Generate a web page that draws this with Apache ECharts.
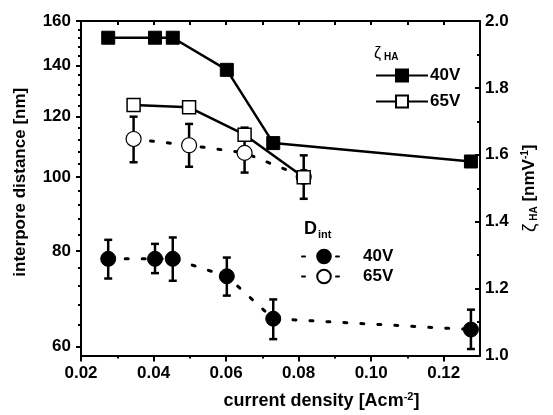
<!DOCTYPE html>
<html><head><meta charset="utf-8">
<script src="https://cdn.jsdelivr.net/npm/echarts@6/dist/echarts.min.js"></script>
<style>html,body{margin:0;padding:0;background:#fff}#c{width:553px;height:415px}</style>
</head><body><div id="c"></div>
<script>
// ---- data ----
const xTicks = [0.02, 0.04, 0.06, 0.08, 0.10, 0.12];
const xMinorTicks = [0.03, 0.05, 0.07, 0.09, 0.11];
const xTopTicks = [0.03, 0.04, 0.05, 0.06, 0.07, 0.08, 0.09, 0.10, 0.11, 0.12];
const leftTicks = [60, 80, 100, 120, 140, 160];
const leftMinorTicks = [64, 68, 72, 76, 84, 88, 92, 96, 104, 108, 112, 116, 124, 128, 132, 136, 144, 148, 152, 156];

const x40 = [0.0275, 0.0404, 0.0453, 0.0602, 0.073, 0.1275];
const x65 = [0.0345, 0.0498, 0.0651, 0.0814];
const zeta40 = [1.95, 1.95, 1.95, 1.854, 1.635, 1.58];
const zeta65 = [1.749, 1.742, 1.66, 1.533];
const dint40 = [78.1, 78.1, 78.1, 74.1, 65.2, 63.1];
const dint40Hi = [82.7, 81.7, 83.3, 78.4, 69.1, 67.0];
const dint40Lo = [73.6, 74.8, 73.1, 69.9, 61.3, 59.5];
const dint65 = [112.1, 110.0, 107.5, 100.0];
const dint65Hi = [119.9, 117.3, 116.0, 106.7];
const dint65Lo = [104.5, 103.1, 101.3, 93.6];

const FONT = "'Liberation Sans', Arial, sans-serif";
const pair = (xs, ys) => xs.map((x, i) => [x, ys[i]]);
const errs = (xs, lo, hi) => xs.map((x, i) => [x, lo[i], hi[i]]);

const axisLine = { show: true, onZero: false, lineStyle: { color: '#000', width: 2 } };
const tickStyle = { color: '#000', width: 2 };

function errorRender(params, api) {
  const x = api.value(0), lo = api.value(1), hi = api.value(2);
  const p1 = api.coord([x, hi]), p2 = api.coord([x, lo]);
  const w = 4, st = { stroke: '#000', lineWidth: 2.5 };
  return { type: 'group', children: [
    { type: 'line', shape: { x1: p1[0], y1: p1[1], x2: p2[0], y2: p2[1] }, style: st },
    { type: 'line', shape: { x1: p1[0] - w, y1: p1[1], x2: p1[0] + w, y2: p1[1] }, style: st },
    { type: 'line', shape: { x1: p2[0] - w, y1: p2[1], x2: p2[0] + w, y2: p2[1] }, style: st }
  ]};
}

const chart = echarts.init(document.getElementById('c'), null, { renderer: 'canvas' });
const xCommon = { type: 'value', min: 0.02, max: 0.13, splitLine: { show: false } };
const yLogCommon = { type: 'log', logBase: 10, min: 58.35, max: 160, splitLine: { show: false }, minorTick: { show: false } };

chart.setOption({
  animation: false,
  backgroundColor: '#fff',
  textStyle: { fontFamily: FONT },
  grid: { left: 81, right: 73, top: 21, bottom: 59, containLabel: false },
  xAxis: [
    Object.assign({}, xCommon, {
      position: 'bottom',
      name: 'current density [Acm{sup|-2}]',
      nameLocation: 'middle', nameGap: 36,
      nameTextStyle: { fontFamily: FONT, fontWeight: 'bold', fontSize: 18, color: '#000', padding: [0, 0, 0, 82],
        rich: { sup: { fontFamily: FONT, fontWeight: 'bold', fontSize: 11, color: '#000', verticalAlign: 'top', padding: [0, 0, 8, 0] } } },
      axisLine: axisLine,
      axisTick: { show: true, inside: false, length: 6, lineStyle: tickStyle, customValues: xTicks },
      axisLabel: { show: true, margin: 9, customValues: xTicks, fontFamily: FONT, fontWeight: 'bold', fontSize: 17, color: '#000',
        formatter: v => v.toFixed(2) }
    }),
    Object.assign({}, xCommon, {
      position: 'bottom',
      axisLine: { show: false, onZero: false },
      axisTick: { show: true, inside: false, length: 3, lineStyle: tickStyle, customValues: xMinorTicks },
      axisLabel: { show: false }
    }),
    Object.assign({}, xCommon, {
      position: 'top',
      axisLine: axisLine,
      axisTick: { show: true, inside: true, length: 4, lineStyle: tickStyle, customValues: xTopTicks },
      axisLabel: { show: false }
    })
  ],
  yAxis: [
    Object.assign({}, yLogCommon, {
      position: 'left',
      name: 'interpore distance [nm]',
      nameLocation: 'middle', nameGap: 52, nameRotate: 90,
      nameTextStyle: { fontFamily: FONT, fontWeight: 'bold', fontSize: 17, color: '#000', padding: [0, 0, 0, 12] },
      axisLine: axisLine,
      axisTick: { show: true, inside: false, length: 5, lineStyle: tickStyle, customValues: leftTicks },
      axisLabel: { show: true, margin: 10, customValues: leftTicks, fontFamily: FONT, fontWeight: 'bold', fontSize: 17, color: '#000',
        formatter: v => String(Math.round(v)) }
    }),
    {
      type: 'value', position: 'right', min: 1, max: 2, interval: 0.2,
      name: '{z|ζ}{s| HA} [nmV{sup|-1}]',
      nameLocation: 'middle', nameGap: 40, nameRotate: 90,
      nameTextStyle: { fontFamily: FONT, fontWeight: 'bold', fontSize: 17, color: '#000',
        rich: {
          z: { fontFamily: FONT, fontWeight: 'normal', fontSize: 19, color: '#000' },
          s: { fontFamily: FONT, fontWeight: 'bold', fontSize: 10, color: '#000', verticalAlign: 'bottom', padding: [6, 0, 0, 0] },
          sup: { fontFamily: FONT, fontWeight: 'bold', fontSize: 10, color: '#000', verticalAlign: 'top', padding: [0, 0, 8, 0] }
        } },
      splitLine: { show: false },
      axisLine: axisLine,
      axisTick: { show: true, inside: true, length: 5, lineStyle: tickStyle },
      minorTick: { show: true, splitNumber: 2, length: 3, lineStyle: tickStyle },
      axisLabel: { show: true, margin: 5, fontFamily: FONT, fontWeight: 'bold', fontSize: 17, color: '#000',
        formatter: v => v.toFixed(1) }
    },
    Object.assign({}, yLogCommon, {
      position: 'left',
      axisLine: { show: false, onZero: false },
      axisTick: { show: true, inside: false, length: 3, lineStyle: tickStyle, customValues: leftMinorTicks },
      axisLabel: { show: false }
    })
  ],
  legend: [
    {
      data: ['ζ 40V', 'ζ 65V'], orient: 'vertical', left: 375, top: 67, padding: 0,
      itemWidth: 52, itemHeight: 15, itemGap: 9, selectedMode: false,
      formatter: n => n.split(' ')[1],
      textStyle: { fontFamily: FONT, fontWeight: 'bold', fontSize: 17, color: '#000', padding: [0, 0, 0, -3] }
    },
    {
      data: ['D 40V', 'D 65V'], orient: 'vertical', left: 301, top: 248, padding: 0,
      itemWidth: 44, itemHeight: 17, itemGap: 3, selectedMode: false,
      formatter: n => n.split(' ')[1],
      textStyle: { fontFamily: FONT, fontWeight: 'bold', fontSize: 17, color: '#000', padding: [0, 0, 0, 12] }
    }
  ],
  graphic: [
    { type: 'text', left: 374, top: 46, style: { text: '{z|ζ}{s|HA}', rich: {
      z: { fontFamily: FONT, fontSize: 16, fill: '#000' },
      s: { fontFamily: FONT, fontWeight: 'bold', fontSize: 10, fill: '#000', padding: [6, 0, 0, 3] } } } },
    { type: 'text', left: 304, top: 220, style: { text: '{d|D}{s|int}', rich: {
      d: { fontFamily: FONT, fontWeight: 'bold', fontSize: 18, fill: '#000' },
      s: { fontFamily: FONT, fontWeight: 'bold', fontSize: 11, fill: '#000', padding: [12, 0, 0, 1] } } } }
  ],
  series: [
    { type: 'custom', name: 'err40', xAxisIndex: 0, yAxisIndex: 0, renderItem: errorRender,
      encode: { x: 0, y: [1, 2] }, data: errs(x40, dint40Lo, dint40Hi), z: 1, silent: true },
    { type: 'custom', name: 'err65', xAxisIndex: 0, yAxisIndex: 0, renderItem: errorRender,
      encode: { x: 0, y: [1, 2] }, data: errs(x65, dint65Lo, dint65Hi), z: 1, silent: true },
    { type: 'line', name: 'ζ 40V', xAxisIndex: 0, yAxisIndex: 1, data: pair(x40, zeta40), z: 3,
      symbol: 'rect', symbolSize: 13, showAllSymbol: true,
      lineStyle: { color: '#000', width: 2.5 }, itemStyle: { color: '#000', borderColor: '#000', borderWidth: 1 } },
    { type: 'line', name: 'ζ 65V', xAxisIndex: 0, yAxisIndex: 1, data: pair(x65, zeta65), z: 3,
      symbol: 'rect', symbolSize: 13, showAllSymbol: true,
      lineStyle: { color: '#000', width: 2.5 }, itemStyle: { color: '#fff', borderColor: '#000', borderWidth: 1.5 } },
    { type: 'line', name: 'D 40V', xAxisIndex: 0, yAxisIndex: 0, data: pair(x40, dint40), z: 2,
      symbol: 'circle', symbolSize: 15, showAllSymbol: true,
      lineStyle: { color: '#000', width: 3, type: [3, 14], cap: 'round' }, itemStyle: { color: '#000', borderColor: '#000', borderWidth: 1 } },
    { type: 'line', name: 'D 65V', xAxisIndex: 0, yAxisIndex: 0, data: pair(x65, dint65), z: 2,
      symbol: 'circle', symbolSize: 15, showAllSymbol: true,
      lineStyle: { color: '#000', width: 3, type: [3, 14], cap: 'round' }, itemStyle: { color: '#fff', borderColor: '#000', borderWidth: 1.2 } }
  ]
});
</script></body></html>
